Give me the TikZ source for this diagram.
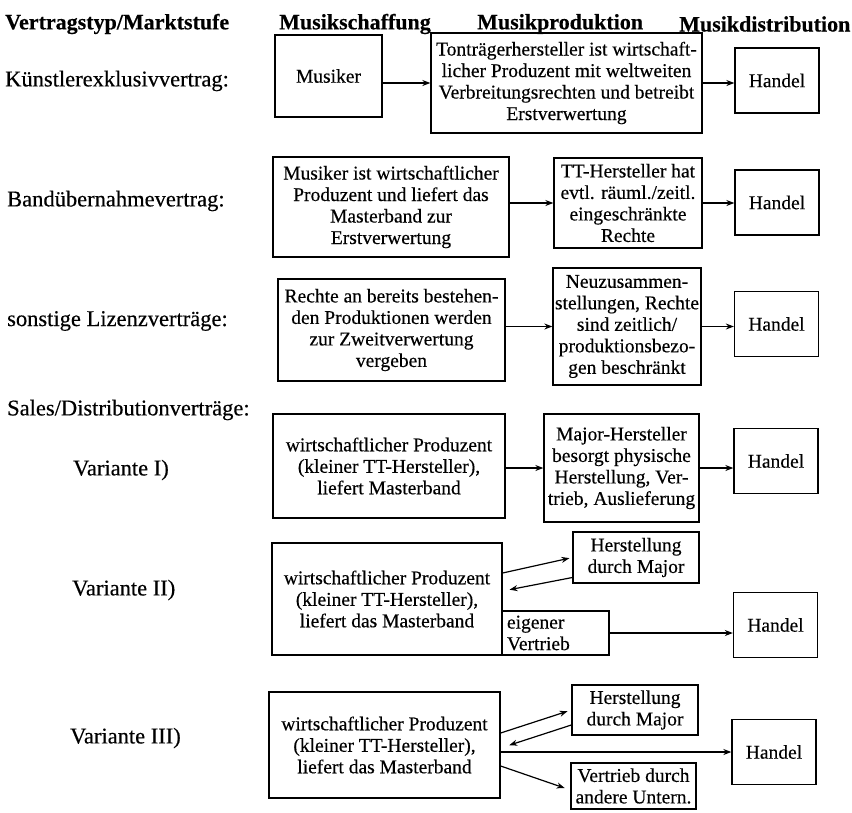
\documentclass[tikz,border=0pt]{standalone}
\usepackage{fontspec}
\setmainfont{Liberation Serif}[FakeBold=0.35]
\usetikzlibrary{arrows.meta}

\newcommand{\labelfont}{\fontsize{22.5}{24}\selectfont}
\newcommand{\headfont}{\fontsize{22}{24}\selectfont\bfseries}
\newcommand{\boxfont}{\fontsize{19.5}{21.5}\selectfont}

\begin{document}
\begin{tikzpicture}[x=1pt,y=-1pt,%
box/.style={draw,line width=1.3pt,align=center,inner sep=0pt,font=\boxfont},
handel/.style={box,minimum width=84pt,minimum height=65pt},
head/.style={anchor=west,inner sep=0pt,font=\headfont},
rowlabel/.style={anchor=west,inner sep=0pt,font=\labelfont},
arrow/.style={line width=1.2pt,-{Stealth[length=8pt,width=6pt]}}
]
\useasboundingbox (0,0) rectangle (852,812);
% column heads
\node[head] (headtyp) at (5,24) {Vertragstyp/Marktstufe};
\node[head] (headschaffung) at (279,24) {Musikschaffung};
\node[head] (headproduktion) at (477,24) {Musikproduktion};
\node[head] (headdistribution) at (679,24) {Musikdistribution};
% row labels
\node[rowlabel] (labelkuenstler) at (5,81) {Künstlerexklusivvertrag:};
\node[rowlabel] (labelband) at (7,201) {Bandübernahmevertrag:};
\node[rowlabel] (labellizenz) at (7,321) {sonstige Lizenzverträge:};
\node[rowlabel] (labelsales) at (7,410) {Sales/Distributionverträge:};
\node[rowlabel] (labelvar1) at (73,470) {Variante I)};
\node[rowlabel] (labelvar2) at (72,590) {Variante II)};
\node[rowlabel] (labelvar3) at (70,738) {Variante III)};
% Kuenstlerexklusivvertrag
\node[box,minimum width=107pt,minimum height=82pt] (musiker) at (328.5,76) {Musiker};
\node[box,minimum width=271pt,minimum height=100pt] (tontraeger) at (566.5,83)
  {Tonträgerhersteller ist wirtschaft-\\licher Produzent mit weltweiten\\Verbreitungsrechten und betreibt\\Erstverwertung};
\node[handel] (handel1) at (777,80.5) {Handel};
% Banduebernahmevertrag
\node[box,minimum width=236pt,minimum height=100pt] (band) at (391,207)
  {Musiker ist wirtschaftlicher\\Produzent und liefert das\\Masterband zur\\Erstverwertung};
\node[box,minimum width=148pt,minimum height=90pt] (ttrechte) at (628,203)
  {TT-Hersteller hat\\evtl. räuml./zeitl.\\eingeschränkte\\Rechte};
\node[handel] (handel2) at (777,202.5) {Handel};
% Lizenzvertraege
\node[box,minimum width=227pt,minimum height=102pt] (lizenz) at (391.5,330)
  {Rechte an bereits bestehen-\\den Produktionen werden\\zur Zweitverwertung\\vergeben};
\node[box,minimum width=148pt,minimum height=117pt] (neuzus) at (627,326.5)
  {Neuzusammen-\\stellungen, Rechte\\sind zeitlich/\\produktionsbezo-\\gen beschränkt};
\node[handel] (handel3) at (776.5,324) {Handel};
% Variante I
\node[box,minimum width=232pt,minimum height=104pt] (produzent1) at (389,466)
  {wirtschaftlicher Produzent\\(kleiner TT-Hersteller),\\liefert Masterband};
\node[box,minimum width=155pt,minimum height=108pt] (major) at (621.5,468)
  {Major-Hersteller\\besorgt physische\\Herstellung, Ver-\\trieb, Auslieferung};
\node[handel] (handel4) at (776,461) {Handel};
% Variante II
\node[box,minimum width=230pt,minimum height=112pt] (produzent2) at (387,599)
  {wirtschaftlicher Produzent\\(kleiner TT-Hersteller),\\liefert das Masterband};
\node[box,minimum width=126pt,minimum height=51pt] (herstellung2) at (636,557.5)
  {Herstellung\\durch Major};
\node[box,align=left,text width=97pt,inner xsep=5pt,minimum height=44pt] (eigen) at (555.5,633)
  {eigener\\Vertrieb};
\node[handel] (handel5) at (775.5,625) {Handel};
% Variante III
\node[box,minimum width=231pt,minimum height=106pt] (produzent3) at (384.5,745)
  {wirtschaftlicher Produzent\\(kleiner TT-Hersteller),\\liefert das Masterband};
\node[box,minimum width=126pt,minimum height=50pt] (herstellung3) at (635,710)
  {Herstellung\\durch Major};
\node[handel] (handel6) at (774,752) {Handel};
\node[box,minimum width=125pt,minimum height=46pt] (vertrieb) at (633.5,786)
  {Vertrieb durch\\andere Untern.};
% connectors
\draw[arrow] (musiker.east |- tontraeger.west) -- (tontraeger.west);
\draw[arrow] (tontraeger.east) -- (tontraeger.east -| handel1.west);
\draw[arrow] (band.east |- ttrechte.west) -- (ttrechte.west);
\draw[arrow] (ttrechte.east) -- (ttrechte.east -| handel2.west);
\draw[arrow] (lizenz.east |- neuzus.west) -- (neuzus.west);
\draw[arrow] (neuzus.east) -- (neuzus.east -| handel3.west);
\draw[arrow] (produzent1.east |- major.west) -- (major.west);
\draw[arrow] (major.east) -- (major.east -| handel4.west);
\draw[arrow,shorten >=3pt] ([yshift=26pt]produzent2.east) -- (herstellung2.west);
\draw[arrow,shorten >=7pt] ([yshift=-20pt]herstellung2.west) -- ([yshift=8pt]produzent2.east);
\draw[arrow] (eigen.east) -- (eigen.east -| handel5.west);
\draw[arrow,shorten >=4pt] ([yshift=12pt]produzent3.east) -- (herstellung3.west);
\draw[arrow,shorten >=9pt] ([yshift=-15pt]herstellung3.west) -- ([yshift=-3pt]produzent3.east);
\draw[arrow] ([yshift=-7pt]produzent3.east) -- (handel6.west);
\draw[arrow,shorten >=6pt] ([yshift=-21pt]produzent3.east) -- ([yshift=-4pt]vertrieb.west);
\end{tikzpicture}
\end{document}
